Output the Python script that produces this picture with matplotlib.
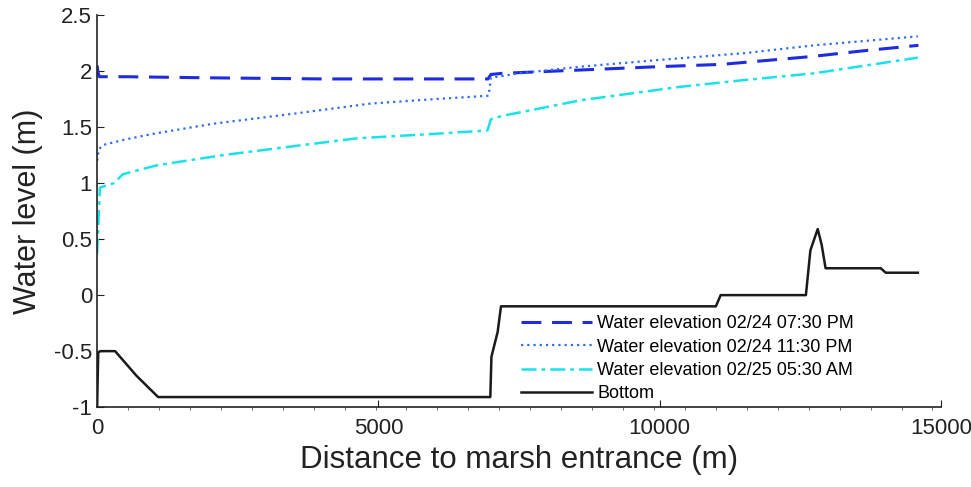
import matplotlib.pyplot as plt
from matplotlib.ticker import MultipleLocator

plt.rcParams["font.family"] = ["Liberation Sans", "DejaVu Sans"]

# water elevation 02/24 07:30 PM (dashed)
x_pm730 = [0, 20, 40, 500, 2000, 4000, 6000, 6950, 7000, 7200, 8600, 10000, 11100, 12700, 13600, 14600]
y_pm730 = [2.05, 1.98, 1.95, 1.95, 1.94, 1.93, 1.93, 1.93, 1.97, 1.98, 2.01, 2.04, 2.06, 2.13, 2.18, 2.23]

# water elevation 02/24 11:30 PM (dotted)
x_pm1130 = [0, 30, 100, 500, 1000, 2060, 3500, 4860, 6000, 6960, 7000, 7500, 8600, 10000, 11500, 12740, 14590]
y_pm1130 = [1.2, 1.3, 1.34, 1.39, 1.44, 1.53, 1.62, 1.71, 1.75, 1.78, 1.94, 1.98, 2.04, 2.1, 2.16, 2.23, 2.31]

# water elevation 02/25 05:30 AM (dash-dot)
x_am530 = [0, 20, 50, 300, 460, 1070, 2240, 3500, 4620, 6000, 6940, 7000, 7200, 8600, 10370, 11500, 12740, 14590]
y_am530 = [0.37, 0.6, 0.96, 1.0, 1.08, 1.16, 1.25, 1.33, 1.4, 1.44, 1.47, 1.57, 1.6, 1.74, 1.86, 1.92, 1.98, 2.12]

# bottom profile (solid)
x_bottom = [0, 20, 60, 320, 700, 1085, 6990, 7010, 7120, 7180, 11000, 11085, 12600, 12680, 12810, 12880, 12950, 13930, 14020, 14590]
y_bottom = [-1.0, -0.51, -0.5, -0.5, -0.72, -0.91, -0.91, -0.55, -0.33, -0.1, -0.1, 0.0, 0.0, 0.4, 0.59, 0.45, 0.24, 0.24, 0.2, 0.2]

series_labels = [
    "Water elevation 02/24 07:30 PM",
    "Water elevation 02/24 11:30 PM",
    "Water elevation 02/25 05:30 AM",
    "Bottom",
]

fig = plt.figure(figsize=(9.71, 4.87), dpi=100)
ax = fig.add_axes([0.1, 0.164, 0.869, 0.805])

ax.plot(x_pm730, y_pm730, color="#1f2be0", linestyle=(0, (6.5, 3.5)), linewidth=2.2, label=series_labels[0])
ax.plot(x_pm1130, y_pm1130, color="#2f6fea", linestyle=(0, (1, 1.8)), linewidth=1.6, label=series_labels[1])
ax.plot(x_am530, y_am530, color="#19e3ea", linestyle=(0, (6, 2, 1.5, 2)), linewidth=1.8, label=series_labels[2])
ax.plot(x_bottom, y_bottom, color="#1a1a1a", linewidth=1.8, label=series_labels[3])

ax.set_xlim(0, 15000)
ax.set_ylim(-1, 2.5)
ax.set_xticks([0, 5000, 10000, 15000])
ax.set_yticks([-1, -0.5, 0, 0.5, 1, 1.5, 2, 2.5])
ax.set_yticklabels(["-1", "-0.5", "0", "0.5", "1", "1.5", "2", "2.5"])
ax.xaxis.set_minor_locator(MultipleLocator(550))
ax.tick_params(axis="both", which="major", direction="in", length=5, labelsize=16, colors="#222222")
ax.tick_params(axis="x", which="minor", direction="out", length=2, color="#555555")
ax.tick_params(axis="x", which="major", pad=8)

for side in ("top", "right"):
    ax.spines[side].set_visible(False)
for side in ("left", "bottom"):
    ax.spines[side].set_linewidth(1.2)
    ax.spines[side].set_color("#222222")

ax.set_xlabel("Distance to marsh entrance (m)", fontsize=22.5, color="#222222", labelpad=4)
ax.set_ylabel("Water level (m)", fontsize=22, color="#222222", labelpad=8)

ax.legend(
    loc="lower left",
    bbox_to_anchor=(0.49, -0.015),
    frameon=False,
    fontsize=13,
    handlelength=3.9,
    labelspacing=0.35,
    handletextpad=0.3,
    borderaxespad=0.2,
)

fig.savefig("out.png", dpi=100)
